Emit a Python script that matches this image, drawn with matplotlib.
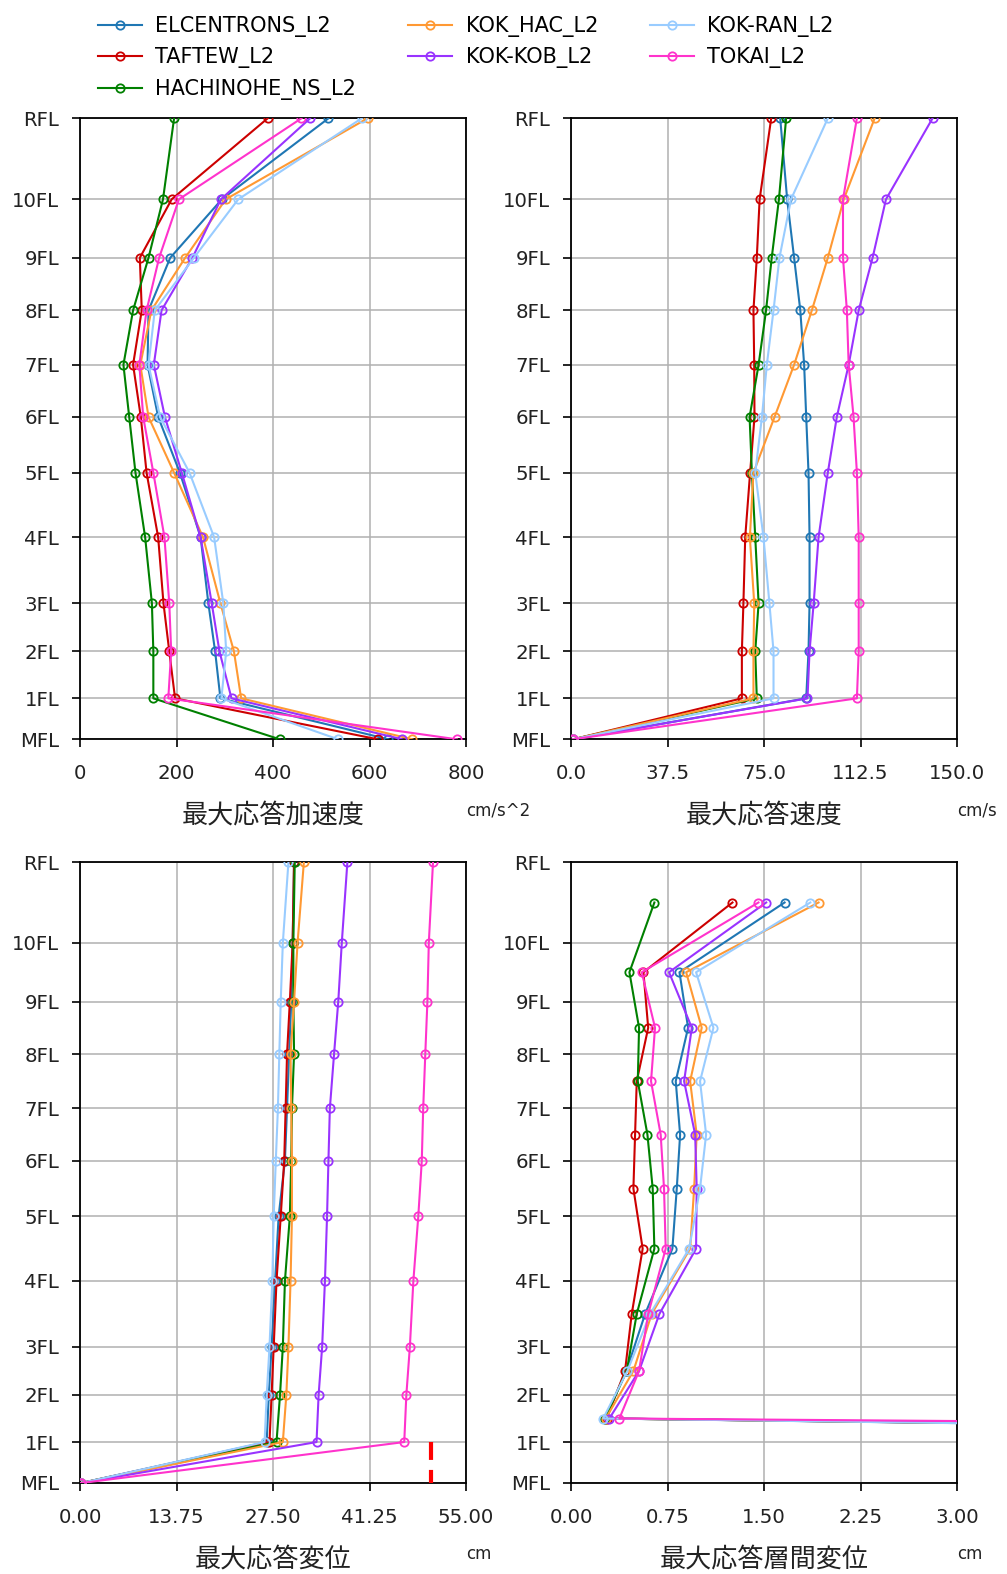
import numpy as np
import matplotlib
matplotlib.use("Agg")
import matplotlib.pyplot as plt

plt.rcParams['font.family'] = ['DejaVu Sans', 'Noto Sans CJK JP']

floors = ['MFL', '1FL', '2FL', '3FL', '4FL', '5FL', '6FL', '7FL', '8FL', '9FL', '10FL', 'RFL']
levels = [0.0, 2.73, 5.87, 9.07, 13.47, 17.77, 21.49, 24.97, 28.6, 32.1, 36.0, 41.4]

series = ['ELCENTRONS_L2', 'TAFTEW_L2', 'HACHINOHE_NS_L2', 'KOK_HAC_L2', 'KOK-KOB_L2', 'KOK-RAN_L2', 'TOKAI_L2']
colors = ['#1f77b4', '#cc0000', '#008000', '#ff9933', '#9933ff', '#99ccff', '#ff33cc']

# max response acceleration (cm/s^2), MFL -> RFL
acc_elcentro = [639, 291, 280, 266, 250, 207, 162, 140, 142, 187, 294, 515]
acc_taft = [617, 197, 185, 173, 162, 138, 126, 110, 128, 124, 190, 389]
acc_hachinohe = [414, 152, 152, 149, 135, 115, 102, 90, 110, 142, 172, 195]
acc_kok_hac = [689, 334, 319, 291, 255, 195, 142, 125, 148, 218, 302, 596]
acc_kok_kob = [668, 314, 289, 273, 250, 211, 176, 153, 169, 233, 292, 477]
acc_kok_ran = [535, 293, 303, 297, 278, 227, 166, 142, 155, 236, 328, 584]
acc_tokai = [781, 183, 189, 185, 175, 152, 131, 123, 138, 164, 205, 459]

# max response velocity (cm/s)
vel_elcentro = [0.8, 91.4, 92.3, 92.7, 92.7, 92.3, 91.4, 90.6, 89.1, 86.7, 84.0, 81.3]
vel_taft = [0.8, 66.4, 66.4, 67.0, 67.7, 69.6, 71.3, 71.2, 70.9, 72.2, 73.3, 77.8]
vel_hachinohe = [0.8, 72.2, 71.6, 72.9, 71.6, 70.3, 69.4, 72.9, 75.8, 78.0, 80.8, 83.6]
vel_kok_hac = [0.8, 70.9, 70.9, 71.2, 69.5, 70.9, 79.1, 86.7, 93.6, 99.8, 106.0, 118.0]
vel_kok_kob = [0.8, 91.9, 92.7, 94.3, 96.2, 99.8, 103.3, 107.9, 111.8, 117.2, 122.4, 140.5]
vel_kok_ran = [0.8, 78.7, 78.7, 77.1, 74.8, 71.6, 74.2, 76.1, 78.7, 81.0, 85.5, 99.8]
vel_tokai = [0.8, 111.1, 111.8, 111.8, 111.8, 111.1, 109.8, 107.9, 107.2, 105.7, 105.7, 111.1]

# max response displacement (cm)
dis_elcentro = [0.2, 26.6, 26.9, 27.3, 27.8, 28.3, 29.2, 29.5, 29.8, 30.1, 30.3, 30.5]
dis_taft = [0.2, 27.0, 27.3, 27.6, 28.0, 28.6, 29.1, 29.3, 29.5, 29.9, 30.3, 30.5]
dis_hachinohe = [0.2, 28.0, 28.5, 28.9, 29.2, 29.9, 30.1, 30.2, 30.5, 30.4, 30.4, 30.6]
dis_kok_hac = [0.2, 28.9, 29.4, 29.7, 30.0, 30.2, 30.2, 30.1, 30.0, 30.5, 31.0, 31.9]
dis_kok_kob = [0.2, 33.7, 34.0, 34.5, 34.9, 35.2, 35.4, 35.6, 36.2, 36.8, 37.3, 38.1]
dis_kok_ran = [0.2, 26.3, 26.6, 27.0, 27.4, 27.6, 27.9, 28.2, 28.4, 28.6, 28.9, 29.7]
dis_tokai = [0.2, 46.2, 46.5, 47.0, 47.5, 48.2, 48.7, 48.9, 49.2, 49.5, 49.7, 50.3]

# max story drift (cm), stories MFL-1FL -> 10FL-RFL
dr_elcentro = [26.6, 0.264, 0.43, 0.576, 0.788, 0.822, 0.848, 0.814, 0.91, 0.843, 1.66]
dr_taft = [27.0, 0.277, 0.42, 0.472, 0.557, 0.485, 0.498, 0.511, 0.60, 0.563, 1.255]
dr_hachinohe = [28.0, 0.264, 0.433, 0.511, 0.648, 0.635, 0.594, 0.519, 0.529, 0.454, 0.648]
dr_kok_hac = [28.9, 0.27, 0.485, 0.627, 0.926, 0.957, 0.977, 0.926, 1.016, 0.895, 1.924]
dr_kok_kob = [33.7, 0.298, 0.529, 0.687, 0.972, 0.977, 0.965, 0.879, 0.939, 0.762, 1.517]
dr_kok_ran = [26.3, 0.25, 0.438, 0.615, 0.918, 1.003, 1.05, 1.003, 1.107, 0.972, 1.86]
dr_tokai = [46.2, 0.376, 0.529, 0.60, 0.736, 0.723, 0.697, 0.622, 0.653, 0.55, 1.457]

clearance_limit = 50.0

acc = [acc_elcentro, acc_taft, acc_hachinohe, acc_kok_hac, acc_kok_kob, acc_kok_ran, acc_tokai]
vel = [vel_elcentro, vel_taft, vel_hachinohe, vel_kok_hac, vel_kok_kob, vel_kok_ran, vel_tokai]
dis = [dis_elcentro, dis_taft, dis_hachinohe, dis_kok_hac, dis_kok_kob, dis_kok_ran, dis_tokai]
drf = [dr_elcentro, dr_taft, dr_hachinohe, dr_kok_hac, dr_kok_kob, dr_kok_ran, dr_tokai]

lv = np.array(levels)
mid = (lv[:-1] + lv[1:]) / 2

W, H = 1007, 1574
fig = plt.figure(figsize=(W / 100, H / 100), dpi=100)

def fx(px):
    return px / W

def fy(py):
    return 1 - py / H

ax_w = fx(386)
ax_h = 621 / H
axs = [
    fig.add_axes([fx(80), fy(739.3), ax_w, ax_h]),
    fig.add_axes([fx(571), fy(739.3), ax_w, ax_h]),
    fig.add_axes([fx(80), fy(1483), ax_w, ax_h]),
    fig.add_axes([fx(571), fy(1483), ax_w, ax_h]),
]

panels = [
    (acc, lv, 800, [0, 200, 400, 600, 800], '{:.0f}', '最大応答加速度', 'cm/s^2'),
    (vel, lv, 150, [0, 37.5, 75, 112.5, 150], '{:.1f}', '最大応答速度', 'cm/s'),
    (dis, lv, 55, [0, 13.75, 27.5, 41.25, 55], '{:.2f}', '最大応答変位', 'cm'),
    (drf, mid, 3, [0, 0.75, 1.5, 2.25, 3.0], '{:.2f}', '最大応答層間変位', 'cm'),
]

for ax, (data, ys, xmax, xt, fmt, xl, unit) in zip(axs, panels):
    for vals, c, name in zip(data, colors, series):
        ax.plot(vals, ys, color=c, lw=1.5, marker='o', ms=6, mfc='none',
                mec=c, mew=1.3, label=name, zorder=3)
    ax.set_xlim(0, xmax)
    ax.set_ylim(0, levels[-1])
    ax.set_xticks(xt)
    ax.set_xticklabels([fmt.format(v) for v in xt])
    ax.set_yticks(levels)
    ax.set_yticklabels(floors)
    ax.grid(True, color='#b0b0b0', lw=1.1)
    ax.set_axisbelow(True)
    for s in ax.spines.values():
        s.set_linewidth(1.3)
        s.set_color('black')
    ax.tick_params(axis='both', direction='out', length=6, width=1.2,
                   labelsize=14.2, colors='black', labelcolor='#222222')
    ax.tick_params(axis='x', pad=12)
    ax.tick_params(axis='y', pad=9)
    ax.set_xlabel(xl, fontsize=18.8, color='#222222', va='center')
    ax.xaxis.set_label_coords(0.5, -0.1225)
    ax.text(1.0, -0.115, unit, transform=ax.transAxes, ha='left', va='center',
            fontsize=12, color='#222222')

axs[2].plot([clearance_limit, clearance_limit], [levels[1], levels[0]], color='red',
            lw=3, ls=(0, (4.3, 2.4)), zorder=4)

handles, labels = axs[0].get_legend_handles_labels()
fig.legend(handles, labels, loc='upper left', bbox_to_anchor=(fx(98), fy(16)),
           ncol=3, frameon=False, fontsize=15, handlelength=2.1,
           handletextpad=0.65, columnspacing=2.5, labelspacing=0.5,
           borderaxespad=0, borderpad=0)

fig.savefig('out.png', dpi=100)
